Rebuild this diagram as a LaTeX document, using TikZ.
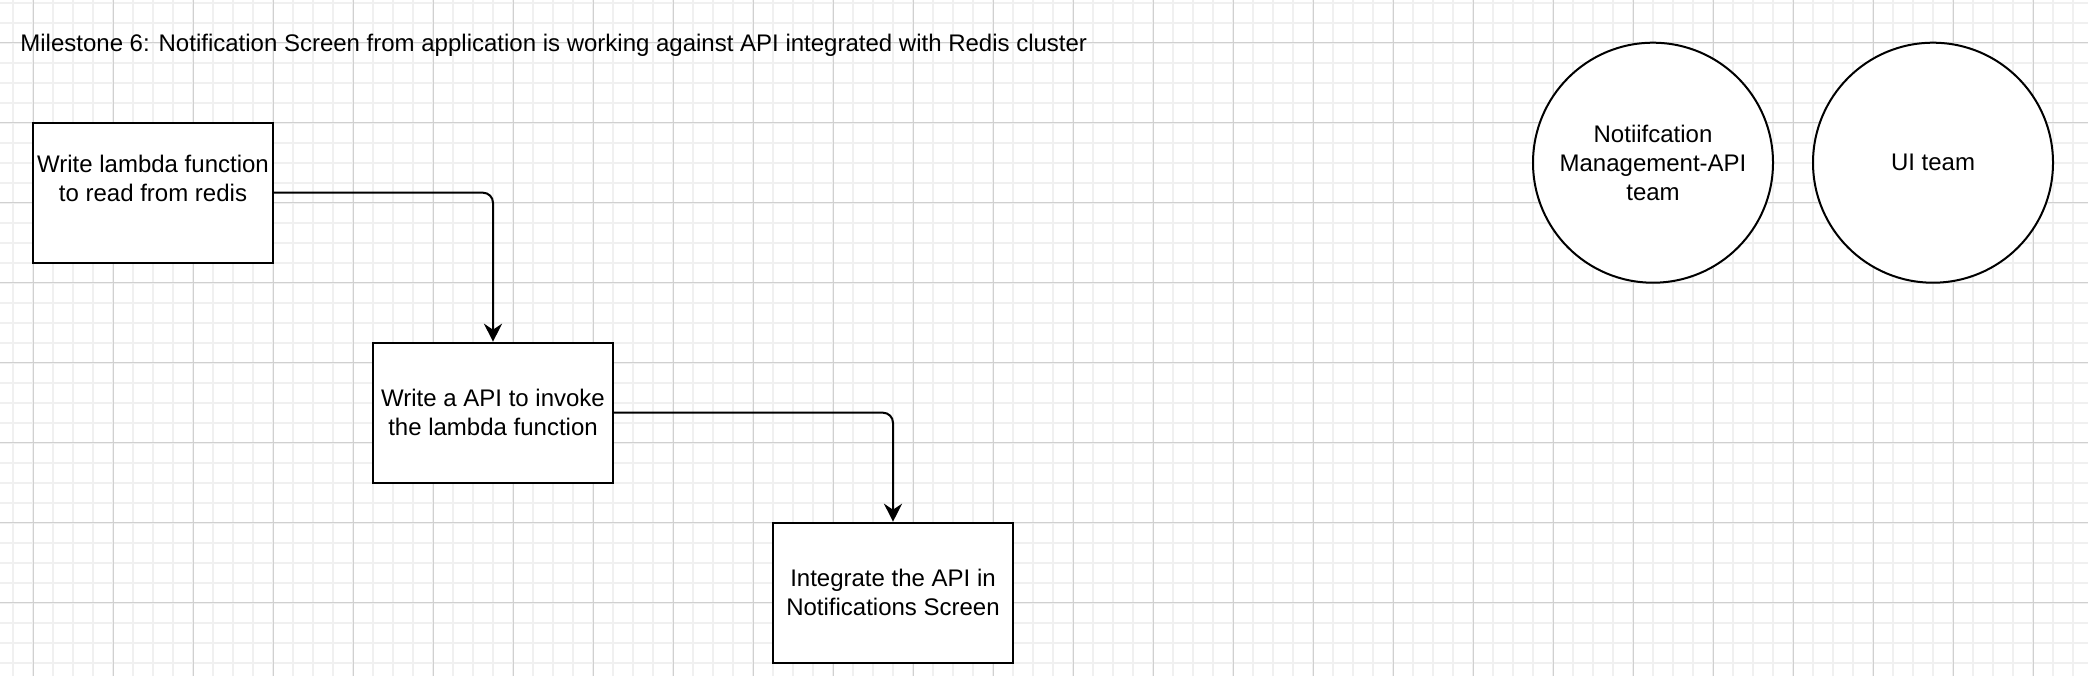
\documentclass[tikz,border=0pt]{standalone}
\usepackage{fontspec}
\setmainfont{Liberation Sans}
\usetikzlibrary{shapes.geometric, arrows.meta, positioning}
\definecolor{minorgrid}{HTML}{F0F0F0}
\definecolor{majorgrid}{HTML}{D0D0D0}
\tikzstyle{boxes} = [rectangle, minimum width=120pt, minimum height=70pt, text centered, align=center, draw=black, line width=1pt, fill=white, inner sep=0pt, font=\fontsize{12}{14.4}\selectfont]
\tikzstyle{team} = [circle, minimum size=120pt, text centered, align=center, draw=black, line width=1pt, fill=white, inner sep=0pt, font=\fontsize{12}{14.4}\selectfont]
\tikzstyle{arrow} = [line width=1pt, rounded corners=5pt, -{Stealth[length=9pt, width=9pt, inset=3pt]}]

\begin{document}
\begin{tikzpicture}[x=1pt, y=-1pt, node distance=110pt]
    \useasboundingbox (0,0) rectangle (1044,338);

    %Grid
    \foreach \gx in {0,...,103} \draw[minorgrid, line width=1pt] (6.5+10*\gx,0) -- (6.5+10*\gx,338);
    \foreach \gy in {0,...,33} \draw[minorgrid, line width=1pt] (0,1.35+10*\gy) -- (1044,1.35+10*\gy);
    \foreach \gx in {0,...,25} \draw[majorgrid, line width=0.5pt] (16.5+40*\gx,0) -- (16.5+40*\gx,338);
    \foreach \gy in {0,...,7} \draw[majorgrid, line width=0.5pt] (0,21.35+40*\gy) -- (1044,21.35+40*\gy);

    %Title
    \node (title) [anchor=west, inner sep=0pt, font=\fontsize{12}{14.4}\selectfont] at (10,22.6) {Milestone 6: Notification Screen from application is working against API integrated with Redis cluster};

    %Main Nodes
    \node (lambda) [boxes] at (76.5,96.35) {Write lambda function\\to read from redis\\\mbox{}};
    \node (api) [boxes, below of=lambda, xshift=170pt] {Write a API to invoke\\the lambda function};
    \node (screen) [boxes, below of=api, xshift=200pt, yshift=20pt] {Integrate the API in\\Notifications Screen};

    %Team Nodes
    \node (mgmt) [team] at (826.5,81.35) {Notiifcation\\Management-API\\team};
    \node (ui) [team, right of=mgmt, xshift=30pt] {UI team};

    %Arrows
    \draw [arrow] (lambda) -| (api);
    \draw [arrow] (api) -| (screen);

\end{tikzpicture}
\end{document}
